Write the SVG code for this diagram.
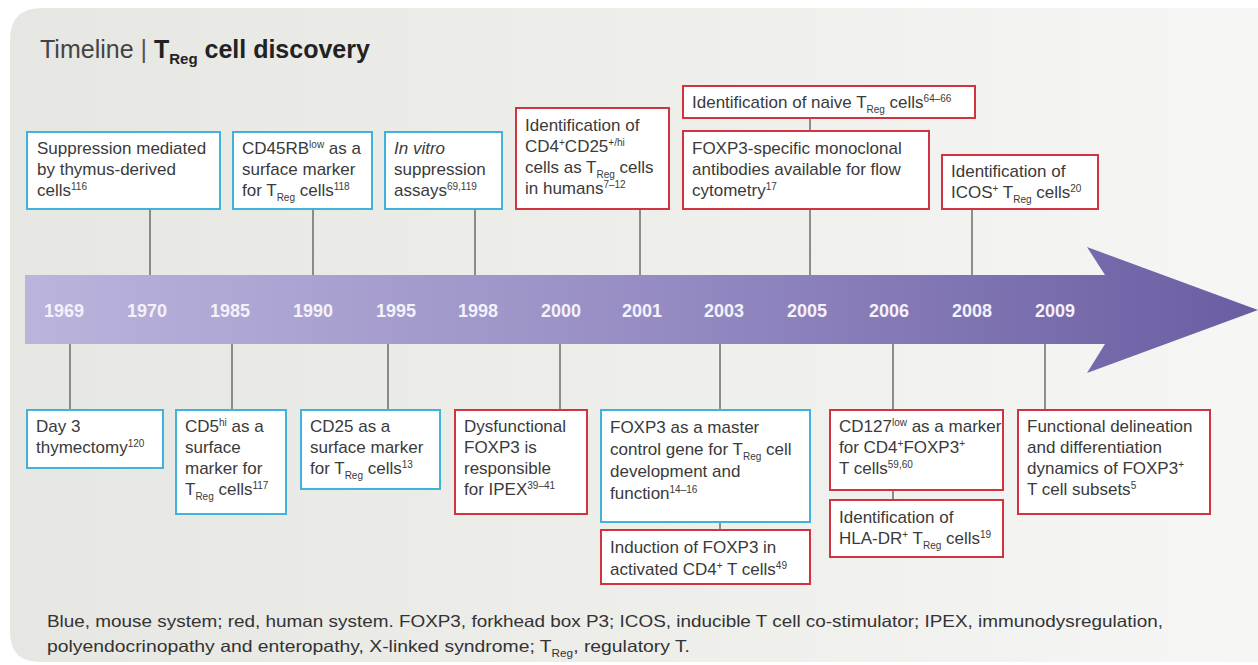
<svg xmlns="http://www.w3.org/2000/svg" width="1258" height="665" viewBox="0 0 1258 665">
<defs>
<linearGradient id="bg" x1="0" y1="0" x2="1" y2="0">
<stop offset="0" stop-color="#e6e6e2"/>
<stop offset="0.6" stop-color="#efefec"/>
<stop offset="1" stop-color="#f6f6f5"/>
</linearGradient>
<linearGradient id="band" gradientUnits="userSpaceOnUse" x1="25" y1="0" x2="1258" y2="0">
<stop offset="0" stop-color="#bbb4dc"/>
<stop offset="0.5" stop-color="#978dc4"/>
<stop offset="1" stop-color="#6a5da2"/>
</linearGradient>
<style>
text{font-family:"Liberation Sans",Arial,sans-serif;fill:#3a3a3a;}
.bt{font-size:17px;}
.sup{font-size:10px;baseline-shift:6px;}
.sub{font-size:10px;baseline-shift:-5px;}
.blue{fill:#fff;stroke:#3fb3dc;stroke-width:2;}
.red{fill:#fff;stroke:#cf3440;stroke-width:2;}
.yr{font-size:18px;font-weight:bold;fill:#f3f1fa;text-anchor:middle;}
.conn line{stroke:#6b6b6b;stroke-width:1.5;}
.cap{font-size:16.5px;fill:#333;}
</style>
</defs>
<path d="M10,40 Q10,8 42,8 L1258,8 L1258,662 L40,662 Q10,662 10,632 Z" fill="url(#bg)"/>
<text x="40" y="58" font-size="25"><tspan fill="#444">Timeline</tspan><tspan fill="#555"> | </tspan><tspan font-weight="bold" fill="#222">T</tspan><tspan font-weight="bold" fill="#222" font-size="15" baseline-shift="-6">Reg</tspan><tspan font-weight="bold" fill="#222"> cell discovery</tspan></text>

<g id="band-arrow">
<path d="M25,275 L1105,275 L1087,247 L1258,310 L1087,373 L1105,344 L25,344 Z" fill="url(#band)"/>
<text class="yr" x="64" y="317">1969</text>
<text class="yr" x="147" y="317">1970</text>
<text class="yr" x="230" y="317">1985</text>
<text class="yr" x="313" y="317">1990</text>
<text class="yr" x="396" y="317">1995</text>
<text class="yr" x="478" y="317">1998</text>
<text class="yr" x="561" y="317">2000</text>
<text class="yr" x="642" y="317">2001</text>
<text class="yr" x="724" y="317">2003</text>
<text class="yr" x="807" y="317">2005</text>
<text class="yr" x="889" y="317">2006</text>
<text class="yr" x="972" y="317">2008</text>
<text class="yr" x="1055" y="317">2009</text>
</g>

<g id="connectors" class="conn">
<line x1="150" y1="209" x2="150" y2="275"/>
<line x1="313" y1="209" x2="313" y2="275"/>
<line x1="475" y1="209" x2="475" y2="275"/>
<line x1="640" y1="209" x2="640" y2="275"/>
<line x1="810" y1="118" x2="810" y2="131"/>
<line x1="810" y1="209" x2="810" y2="275"/>
<line x1="972" y1="209" x2="972" y2="275"/>
<line x1="70" y1="344" x2="70" y2="410"/>
<line x1="232" y1="344" x2="232" y2="410"/>
<line x1="388" y1="344" x2="388" y2="410"/>
<line x1="560" y1="344" x2="560" y2="410"/>
<line x1="720" y1="344" x2="720" y2="410"/>
<line x1="720" y1="522" x2="720" y2="530"/>
<line x1="893" y1="344" x2="893" y2="410"/>
<line x1="893" y1="490" x2="893" y2="500"/>
<line x1="1045" y1="344" x2="1045" y2="410"/>
</g>

<g id="n1970">
<rect class="blue" x="27" y="132" width="193" height="77"/>
<text class="bt" x="37" y="154">Suppression mediated</text>
<text class="bt" x="37" y="175">by thymus-derived</text>
<text class="bt" x="37" y="196">cells<tspan class="sup">116</tspan></text>
</g>
<g id="n1990">
<rect class="blue" x="233" y="132" width="139" height="77"/>
<text class="bt" x="242" y="154">CD45RB<tspan class="sup">low</tspan> as a</text>
<text class="bt" x="242" y="175">surface marker</text>
<text class="bt" x="242" y="196">for T<tspan class="sub">Reg</tspan> cells<tspan class="sup">118</tspan></text>
</g>
<g id="n1998">
<rect class="blue" x="385" y="132" width="117" height="77"/>
<text class="bt" x="394" y="154"><tspan font-style="italic">In vitro</tspan></text>
<text class="bt" x="394" y="175">suppression</text>
<text class="bt" x="394" y="196">assays<tspan class="sup">69,119</tspan></text>
</g>
<g id="n2001">
<rect class="red" x="516" y="108" width="153" height="101"/>
<text class="bt" x="525" y="131">Identification of</text>
<text class="bt" x="525" y="152">CD4<tspan class="sup">+</tspan>CD25<tspan class="sup">+/hi</tspan></text>
<text class="bt" x="525" y="173">cells as T<tspan class="sub">Reg</tspan> cells</text>
<text class="bt" x="525" y="194">in humans<tspan class="sup">7–12</tspan></text>
</g>
<g id="n2005a">
<rect class="red" x="683" y="86" width="292" height="32"/>
<text class="bt" x="692" y="108">Identification of naive T<tspan class="sub">Reg</tspan> cells<tspan class="sup">64–66</tspan></text>
</g>
<g id="n2005b">
<rect class="red" x="683" y="131" width="246" height="78"/>
<text class="bt" x="692" y="154">FOXP3-specific monoclonal</text>
<text class="bt" x="692" y="175">antibodies available for flow</text>
<text class="bt" x="692" y="196">cytometry<tspan class="sup">17</tspan></text>
</g>
<g id="n2008">
<rect class="red" x="942" y="155" width="156" height="54"/>
<text class="bt" x="951" y="177">Identification of</text>
<text class="bt" x="951" y="198">ICOS<tspan class="sup">+</tspan> T<tspan class="sub">Reg</tspan> cells<tspan class="sup">20</tspan></text>
</g>

<g id="n1969">
<rect class="blue" x="27" y="410" width="136" height="58"/>
<text class="bt" x="36" y="432">Day 3</text>
<text class="bt" x="36" y="453">thymectomy<tspan class="sup">120</tspan></text>
</g>
<g id="n1985">
<rect class="blue" x="176" y="410" width="110" height="104"/>
<text class="bt" x="185" y="432">CD5<tspan class="sup">hi</tspan> as a</text>
<text class="bt" x="185" y="453">surface</text>
<text class="bt" x="185" y="474">marker for</text>
<text class="bt" x="185" y="495">T<tspan class="sub">Reg</tspan> cells<tspan class="sup">117</tspan></text>
</g>
<g id="n1995">
<rect class="blue" x="301" y="410" width="139" height="79"/>
<text class="bt" x="310" y="432">CD25 as a</text>
<text class="bt" x="310" y="453">surface marker</text>
<text class="bt" x="310" y="474">for T<tspan class="sub">Reg</tspan> cells<tspan class="sup">13</tspan></text>
</g>
<g id="n2000">
<rect class="red" x="455" y="410" width="132" height="104"/>
<text class="bt" x="464" y="432">Dysfunctional</text>
<text class="bt" x="464" y="453">FOXP3 is</text>
<text class="bt" x="464" y="474">responsible</text>
<text class="bt" x="464" y="495">for IPEX<tspan class="sup">39–41</tspan></text>
</g>
<g id="n2003a">
<rect class="blue" x="601" y="410" width="209" height="112"/>
<text class="bt" x="610" y="433">FOXP3 as a master</text>
<text class="bt" x="610" y="455">control gene for T<tspan class="sub">Reg</tspan> cell</text>
<text class="bt" x="610" y="477">development and</text>
<text class="bt" x="610" y="499">function<tspan class="sup">14–16</tspan></text>
</g>
<g id="n2003b">
<rect class="red" x="601" y="530" width="209" height="54"/>
<text class="bt" x="610" y="553">Induction of FOXP3 in</text>
<text class="bt" x="610" y="575">activated CD4<tspan class="sup">+</tspan> T cells<tspan class="sup">49</tspan></text>
</g>
<g id="n2006a">
<rect class="red" x="830" y="410" width="173" height="80"/>
<text class="bt" x="839" y="432">CD127<tspan class="sup">low</tspan> as a marker</text>
<text class="bt" x="839" y="453">for CD4<tspan class="sup">+</tspan>FOXP3<tspan class="sup">+</tspan></text>
<text class="bt" x="839" y="474">T cells<tspan class="sup">59,60</tspan></text>
</g>
<g id="n2006b">
<rect class="red" x="830" y="500" width="173" height="57"/>
<text class="bt" x="839" y="523">Identification of</text>
<text class="bt" x="839" y="544">HLA-DR<tspan class="sup">+</tspan> T<tspan class="sub">Reg</tspan> cells<tspan class="sup">19</tspan></text>
</g>
<g id="n2009">
<rect class="red" x="1018" y="410" width="192" height="104"/>
<text class="bt" x="1027" y="432">Functional delineation</text>
<text class="bt" x="1027" y="453">and differentiation</text>
<text class="bt" x="1027" y="474">dynamics of FOXP3<tspan class="sup">+</tspan></text>
<text class="bt" x="1027" y="495">T cell subsets<tspan class="sup">5</tspan></text>
</g>

<text class="cap" x="47" y="627" textLength="1116" lengthAdjust="spacingAndGlyphs">Blue, mouse system; red, human system. FOXP3, forkhead box P3; ICOS, inducible T cell co-stimulator; IPEX, immunodysregulation,</text>
<text class="cap" x="47" y="652" textLength="643" lengthAdjust="spacingAndGlyphs">polyendocrinopathy and enteropathy, X-linked syndrome; T<tspan class="sub">Reg</tspan>, regulatory T.</text>
</svg>
